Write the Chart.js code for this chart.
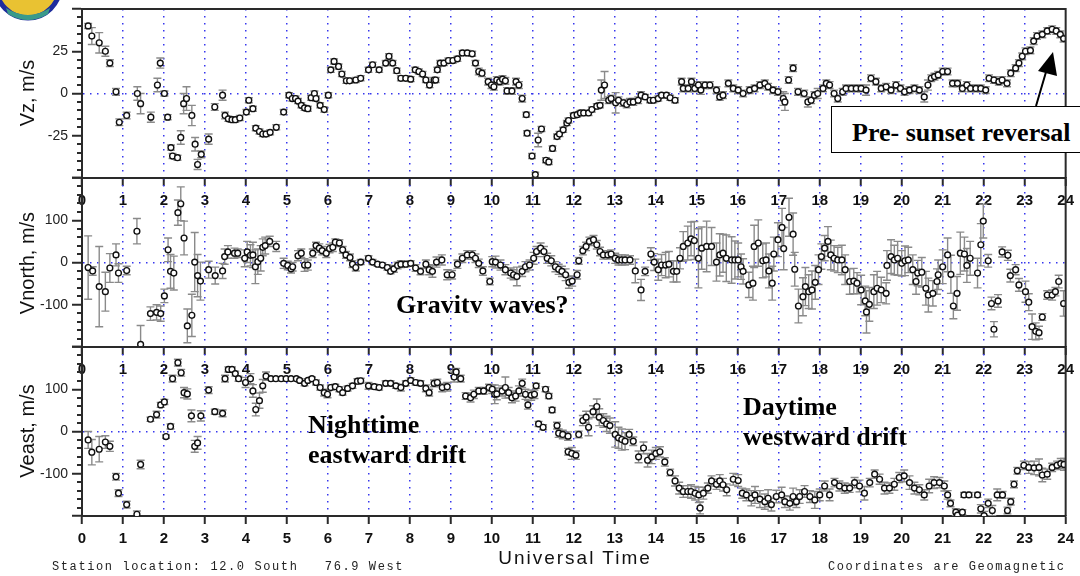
<!DOCTYPE html>
<html>
<head>
<meta charset="utf-8">
<script src="https://cdn.jsdelivr.net/npm/chart.js@4"></script>
<style>
  body { margin: 0; background: #fff; }
  #page { position: relative; width: 1080px; height: 576px; overflow: hidden; background: #fff; }
  canvas { position: absolute; left: 0; }
  .ytitle { position: absolute; font: 20px "Liberation Sans", Arial, sans-serif; color: #111;
            white-space: nowrap; transform: translate(-50%, -50%) rotate(-90deg); }
  .note { position: absolute; font: bold 26px "Liberation Serif", "Times New Roman", serif; color: #000; white-space: nowrap; }
  .foot { position: absolute; font: 12px "Liberation Mono", monospace; letter-spacing: 1.6px; color: #222; white-space: pre; }
</style>
</head>
<body>
<div id="page">
  <canvas id="vzChart" width="1080" height="227" style="top:-9px"></canvas>
  <canvas id="vnChart" width="1080" height="227" style="top:160px"></canvas>
  <canvas id="veChart" width="1080" height="227" style="top:329px"></canvas>

  <div class="ytitle" style="left:27px; top:93px">Vz, m/s</div>
  <div class="ytitle" style="left:27px; top:263px">Vnorth, m/s</div>
  <div class="ytitle" style="left:27px; top:431px">Veast, m/s</div>

  <div style="position:absolute; left:831px; top:106px; width:260px; height:45px; border:1.5px solid #000; background:#fff; overflow:hidden;">
    <div class="note" style="position:static; padding-left:20px; line-height:52px;">Pre- sunset reversal</div>
  </div>
  <svg style="position:absolute; left:0; top:0" width="1080" height="576">
    <line x1="1036" y1="106" x2="1046" y2="72" stroke="#000" stroke-width="2"/>
    <polygon points="1053,52 1038,71 1057,76" fill="#000"/>
    <circle cx="28" cy="-14" r="32" fill="#e9c232" stroke="#1e2c9c" stroke-width="5"/>
    <path d="M6,8 Q28,22 50,8 L48,14 Q28,26 8,14 Z" fill="#3a9a8a"/>
  </svg>

  <div style="position:absolute; left:396px; top:285px; height:28px; overflow:hidden;">
    <div class="note" style="position:static; margin-top:7px; line-height:26px;">Gravity waves?</div>
  </div>
  <div class="note" style="left:308px; top:410px; line-height:30px;">Nighttime<br>eastward drift</div>
  <div class="note" style="left:743px; top:392px; line-height:30px;">Daytime<br>westward drift</div>

  <div style="position:absolute; left:575px; top:558px; transform:translate(-50%,-50%); font:19px 'Liberation Sans', Arial, sans-serif; letter-spacing:2px; color:#111; white-space:nowrap;">Universal Time</div>
  <div class="foot" style="left:52px; top:560px;">Station location: 12.0 South   76.9 West</div>
  <div class="foot" style="left:828px; top:560px;">Coordinates are Geomagnetic</div>
</div>

<script>
// [UT hour, velocity m/s, error m/s]
const vzPoints = [
  [0.15,40,1.5],[0.24,34,5],[0.42,30,6],[0.57,25,3],[0.68,18,2],[0.83,1,2],[0.91,-17,2],[1.09,-13,2],
  [1.35,0,4],[1.43,-6,6],[1.68,-14,3],[1.84,5,4],[1.91,18,3],[2.01,0,1.5],[2.09,-14,1.5],[2.17,-32,1.5],
  [2.21,-37,1.5],[2.33,-38,1.5],[2.41,-26,4],[2.48,-6,6],[2.55,-3,7],[2.68,-13,6],[2.76,-30,4],[2.82,-42,3],
  [2.91,-36,2],[3.09,-27,3],[3.24,-8,2],[3.43,-1,3],[3.49,-13,2],[3.57,-15,1.5],[3.66,-15.5,1.5],[3.74,-15.5,1.5],
  [3.85,-14.5,1.5],[4.01,-11,1.5],[4.07,-4,1.5],[4.17,-9,1.5],[4.24,-20.5,1.5],[4.33,-22.5,1.5],[4.41,-24,1.5],
  [4.49,-24,1.5],[4.59,-23,1.5],[4.74,-20,1.5],[4.92,-11,1.5],[5.05,-1,1.5],[5.13,-3,1.5],[5.21,-3,1.5],
  [5.27,-4.5,1.5],[5.35,-7,1.5],[5.43,-8.5,1.5],[5.51,-9,1.5],[5.59,-2.5,1.5],[5.67,0,1.5],[5.71,-3,1.5],
  [5.81,-7,1.5],[5.91,-9.5,1.5],[6.01,-1,1.5],[6.07,14,1.5],[6.15,19,1.5],[6.26,16,1.5],[6.34,11.5,1.5],
  [6.45,7.5,1.5],[6.53,7.5,1.5],[6.68,8,1.5],[6.80,9,1.5],[6.99,14,1.5],[7.09,17,1.5],[7.25,14,1.5],
  [7.41,18,1.5],[7.49,22,1.5],[7.58,18,1.5],[7.68,13.5,1.5],[7.78,9,1.5],[7.90,9,1.5],[8.02,8.5,1.5],
  [8.13,14,1.5],[8.22,13,1.5],[8.31,11.5,1.5],[8.39,8,1.5],[8.48,5,1.5],[8.59,8,1.5],[8.63,8,1.5],
  [8.67,14,1.5],[8.74,18,1.5],[8.83,18,1.5],[8.94,19.5,1.5],[9.05,19.5,1.5],[9.16,20.5,1.5],[9.28,24,1.5],
  [9.40,24,1.5],[9.52,23.5,1.5],[9.60,18,1.5],[9.68,13,2],[9.76,12,2],[9.91,7,2],[9.99,5,2],[10.05,4,2],
  [10.12,8,2],[10.19,7,2],[10.26,8.5,2],[10.33,7.5,2],[10.37,1.5,2],[10.49,1.5,2],[10.59,7,2],[10.66,5,2],
  [10.74,-3,2],[10.84,-12.5,1.5],[10.86,-23.5,1.5],[10.98,-37,1.5],[11.06,-48,1.5],[11.13,-27.5,4],
  [11.21,-21,1.5],[11.32,-39.5,1.5],[11.39,-40.5,1.5],[11.48,-32.5,1.5],[11.59,-25.5,1.5],[11.65,-24,1.5],
  [11.74,-21.5,1.5],[11.83,-17.5,1.5],[11.87,-16,1.5],[11.99,-13,1.5],[12.08,-12.5,1.5],[12.16,-11.5,1.5],
  [12.24,-11.5,1.5],[12.36,-11.5,1.5],[12.44,-9.5,1.5],[12.56,-7.5,1.5],[12.64,-7,1.5],[12.67,2,6],
  [12.75,5,8],[12.85,-4,2],[12.91,-3,2],[13.02,-5.5,6],[13.09,-4,2],[13.21,-5.5,2],[13.29,-6.5,2],
  [13.37,-5,2],[13.45,-5,2],[13.57,-4,2],[13.64,-1,2],[13.74,-2,1.5],[13.86,-4,1.5],[13.94,-4,1.5],
  [14.06,-3,1.5],[14.14,-1,1.5],[14.26,-1,1.5],[14.35,-2.5,1.5],[14.47,-4,1.5],[14.63,7,2],[14.67,3,2],
  [14.79,3,2],[14.87,7,2],[14.95,3,2],[15.04,5,2],[15.10,2,2.5],[15.20,5,2],[15.32,5,2],[15.48,2,2],
  [15.56,-2,2],[15.64,-1,2],[15.77,6,2],[15.89,3,2],[16.01,2,2],[16.13,0,2],[16.29,2,2],[16.41,3,2],
  [16.54,5,2],[16.66,6,2],[16.74,4,2],[16.86,2,2],[16.98,1,2],[17.11,-3,4],[17.15,-5,5],[17.24,8,2],
  [17.35,15,2],[17.47,1,2],[17.62,0,2],[17.71,-5,3],[17.79,-4,2],[17.87,-1,2],[17.95,0,3],[18.08,3,2],
  [18.16,6,2],[18.24,5,2],[18.35,0,2],[18.44,-3,2],[18.56,1,2],[18.64,3,2],[18.77,3,2],[18.89,3,2],
  [19.01,3,2],[19.13,2,3],[19.25,9,2],[19.37,7,2],[19.50,3,2],[19.62,4,2],[19.74,2,2],[19.86,5,2],
  [19.97,3,2],[20.07,1,2],[20.19,2,2],[20.31,3,2],[20.43,2,2],[20.55,-2,3],[20.64,5,3],[20.72,9,2],
  [20.80,10,2],[20.89,11,2],[21.00,13,2],[21.12,13,2],[21.24,6,2],[21.36,6,2],[21.48,3,2],[21.59,5,2],
  [21.68,3,2],[21.81,3,2],[21.93,3,2],[22.05,2,2],[22.13,9,2],[22.25,8,2],[22.37,7,2],[22.45,8,2],
  [22.57,6,2],[22.66,12,2],[22.78,15,2],[22.86,18,2],[22.94,22,2],[23.02,25,2],[23.14,25.5,2],[23.22,31,2],
  [23.30,34,2],[23.43,35,2],[23.55,37,2],[23.67,38,2],[23.77,37,2],[23.87,35,2],[23.95,32.5,2]
];

const vnorthPoints = [
  [0.15,-12,75],[0.26,-20,10],[0.42,-57,95],[0.57,-69,46],[0.68,-13,34],[0.83,18,26],[0.89,-25,22],
  [1.09,-19,10],[1.34,74,30],[1.43,-194,45],[1.67,-121,16],[1.82,-118,18],[1.92,-121,18],[2.01,-79,16],
  [2.10,30,28],[2.16,-21,40],[2.24,-25,40],[2.34,118,30],[2.41,139,40],[2.49,58,40],[2.57,-150,40],
  [2.68,-125,50],[2.75,1,70],[2.82,-31,50],[2.89,-44,45],[3.09,-17,20],[3.25,-31,20],[3.43,-20,18],
  [3.48,14,18],[3.56,25,15],[3.72,22,12],[3.80,22,10],[3.97,10,20],[4.03,25,25],[4.11,17,25],[4.17,18,30],
  [4.23,-10,40],[4.29,2,30],[4.36,10,30],[4.41,36,20],[4.47,40,20],[4.58,50,12],[4.74,38,12],[4.92,-2,12],
  [5.02,-7,10],[5.10,-15,10],[5.14,-10,10],[5.27,16,12],[5.35,22,10],[5.43,-6,15],[5.51,-6,12],[5.63,22,10],
  [5.71,40,8],[5.79,34,10],[5.86,28,10],[5.96,22,10],[6.04,33,10],[6.12,36,10],[6.18,48,8],[6.28,46,8],
  [6.36,30,8],[6.44,18,8],[6.54,12,8],[6.60,-4,8],[6.68,-12,8],[6.80,1,6],[6.99,10,6],[7.09,1,6],
  [7.21,-4,5],[7.33,-6,5],[7.45,-12,6],[7.53,-21,6],[7.61,-15,8],[7.70,-7,8],[7.78,-4,8],[7.90,-4,6],
  [8.02,-2,6],[8.14,-13,8],[8.26,-21,8],[8.39,-4,10],[8.47,-17,12],[8.55,-21,14],[8.65,1,12],[8.78,6,12],
  [8.91,-29,12],[9.03,-29,10],[9.16,-4,10],[9.28,10,10],[9.40,18,10],[9.52,18,10],[9.60,10,10],[9.68,-2,10],
  [9.78,-20,10],[9.95,-45,8],[10.01,2,12],[10.09,1,14],[10.21,-6,12],[10.33,-17,12],[10.46,-25,12],
  [10.53,-29,12],[10.61,-33,22],[10.74,-21,12],[10.82,-10,12],[10.92,-6,12],[11.02,10,14],[11.09,26,12],
  [11.19,34,12],[11.27,26,12],[11.35,10,12],[11.45,4,12],[11.55,-10,12],[11.63,-16,12],[11.71,-21,12],
  [11.80,-29,14],[11.88,-47,14],[11.96,-44,12],[12.08,-29,10],[12.12,4,8],[12.22,28,10],[12.30,38,10],
  [12.38,50,10],[12.48,54,10],[12.56,42,10],[12.64,26,10],[12.72,18,10],[12.83,18,10],[12.91,20,10],
  [13.01,10,12],[13.09,6,12],[13.17,6,12],[13.25,6,12],[13.37,6,10],[13.50,-20,28],[13.64,-65,25],
  [13.74,-21,10],[13.88,20,15],[13.96,1,20],[14.06,-17,25],[14.14,-6,25],[14.24,-6,30],[14.32,-4,30],
  [14.43,-21,25],[14.51,-21,25],[14.59,10,25],[14.67,38,35],[14.78,46,40],[14.86,56,40],[14.94,52,45],
  [15.04,10,70],[15.12,34,50],[15.24,38,60],[15.36,38,45],[15.48,1,45],[15.56,18,50],[15.64,22,45],
  [15.72,10,55],[15.85,6,55],[15.93,6,45],[16.01,6,40],[16.08,-10,30],[16.13,-21,30],[16.27,-53,30],
  [16.37,-49,40],[16.40,38,50],[16.50,46,55],[16.61,4,40],[16.69,6,40],[16.76,-20,40],[16.84,-49,40],
  [16.88,20,40],[16.98,54,40],[17.08,83,45],[17.12,33,50],[17.25,107,45],[17.35,67,50],[17.39,-16,40],
  [17.48,-103,40],[17.59,-81,45],[17.65,-57,45],[17.73,-69,40],[17.81,-65,45],[17.89,-47,40],[17.97,-17,35],
  [18.04,14,30],[18.12,34,30],[18.20,50,35],[18.27,18,35],[18.35,10,30],[18.44,6,30],[18.54,6,35],
  [18.62,-17,35],[18.73,-45,30],[18.83,-44,30],[18.91,-49,25],[19.01,-65,35],[19.11,-91,35],[19.14,-117,50],
  [19.21,-99,40],[19.32,-69,40],[19.40,-61,40],[19.50,-65,30],[19.62,-73,25],[19.64,-7,35],[19.74,14,40],
  [19.82,6,35],[19.90,10,40],[20.00,-2,30],[20.08,4,35],[20.16,6,30],[20.27,-17,35],[20.35,-45,30],
  [20.39,-25,30],[20.49,-23,35],[20.59,-61,40],[20.65,-77,40],[20.76,-73,30],[20.86,-45,30],[20.89,-29,35],
  [21.00,-10,40],[21.12,18,40],[21.20,-28,45],[21.26,-103,30],[21.35,-73,40],[21.43,22,50],[21.53,20,40],
  [21.59,-7,40],[21.67,10,40],[21.85,-25,35],[21.93,42,50],[21.99,98,40],[22.11,4,15],[22.19,-97,15],
  [22.25,-158,18],[22.35,-91,15],[22.45,25,12],[22.59,17,12],[22.65,-31,15],[22.78,-17,12],[22.86,-53,15],
  [23.02,-69,25],[23.10,-94,20],[23.18,-152,30],[23.27,-163,20],[23.35,-166,15],[23.43,-129,8],
  [23.55,-77,10],[23.67,-77,12],[23.75,-69,10],[23.83,-45,15],[23.95,-97,30]
];

const veastPoints = [
  [0.15,-20,20],[0.24,-49,30],[0.42,-42,30],[0.57,-25,15],[0.68,-35,12],[0.83,-107,8],[0.89,-146,8],
  [1.09,-173,8],[1.34,-196,8],[1.43,-78,10],[1.67,29,5],[1.82,40,8],[1.92,63,6],[2.01,70,6],[2.05,-12,4],
  [2.16,12,6],[2.21,125,8],[2.34,163,8],[2.42,139,8],[2.49,92,12],[2.57,89,12],[2.67,37,14],[2.75,-35,14],
  [2.82,-27,15],[2.90,37,12],[3.09,98,8],[3.24,47,6],[3.43,43,8],[3.49,125,8],[3.57,147,6],[3.66,147,6],
  [3.74,137,6],[3.82,125,6],[3.99,116,12],[4.11,125,12],[4.17,96,15],[4.24,52,15],[4.33,73,18],[4.41,108,15],
  [4.49,131,10],[4.61,125,4],[4.73,125,4],[4.86,125,4],[4.98,125,4],[5.10,125,4],[5.23,125,4],[5.31,121,4],
  [5.43,114,6],[5.51,121,4],[5.61,125,4],[5.71,116,6],[5.81,104,6],[5.91,92,8],[5.99,88,8],[6.07,104,6],
  [6.18,106,6],[6.28,100,6],[6.36,92,6],[6.48,102,6],[6.60,108,6],[6.72,119,6],[6.80,120,6],[6.99,108,8],
  [7.13,106,6],[7.25,104,6],[7.41,114,6],[7.53,114,6],[7.66,108,6],[7.78,104,8],[7.90,114,6],[8.02,121,6],
  [8.14,116,6],[8.26,114,6],[8.39,102,8],[8.47,92,8],[8.59,114,8],[8.67,116,8],[8.79,104,10],[8.91,106,10],
  [9.08,129,12],[9.13,141,8],[9.24,125,8],[9.36,84,8],[9.48,80,10],[9.56,88,10],[9.68,96,8],[9.80,96,8],
  [9.93,104,8],[10.01,100,10],[10.07,88,22],[10.12,89,14],[10.25,96,12],[10.33,104,25],[10.41,92,12],
  [10.49,80,12],[10.58,84,12],[10.66,96,12],[10.74,114,10],[10.82,88,12],[10.88,63,10],[10.96,86,12],
  [11.04,88,10],[11.08,108,6],[11.14,18,6],[11.25,10,6],[11.31,100,6],[11.39,84,6],[11.47,51,6],
  [11.59,14,8],[11.63,-4,10],[11.73,-7,10],[11.86,-11,10],[11.86,-48,8],[11.95,-52,14],[12.05,-56,10],
  [12.12,-7,8],[12.22,26,12],[12.30,34,14],[12.36,10,20],[12.47,47,14],[12.56,59,18],[12.62,34,20],
  [12.72,26,16],[12.80,18,18],[12.88,14,18],[13.01,-7,30],[13.09,-15,25],[13.17,-19,25],[13.25,-23,20],
  [13.35,-7,12],[13.45,-23,10],[13.58,-60,14],[13.70,-39,14],[13.80,-68,16],[13.90,-60,16],[14.00,-52,14],
  [14.10,-48,12],[14.22,-72,10],[14.35,-97,8],[14.47,-117,12],[14.57,-134,14],[14.67,-142,14],
  [14.78,-142,14],[14.86,-142,16],[14.96,-146,16],[15.05,-150,18],[15.08,-181,14],[15.16,-146,14],
  [15.27,-134,12],[15.36,-117,12],[15.48,-125,12],[15.56,-117,15],[15.64,-126,15],[15.73,-138,14],
  [15.89,-113,14],[16.01,-116,14],[16.11,-146,12],[16.21,-150,14],[16.33,-158,18],[16.42,-150,20],
  [16.54,-160,20],[16.66,-166,18],[16.74,-158,20],[16.82,-173,15],[16.94,-154,15],[17.07,-150,18],
  [17.15,-166,14],[17.27,-170,16],[17.35,-154,20],[17.43,-166,14],[17.51,-154,16],[17.63,-142,14],
  [17.76,-154,14],[17.88,-162,20],[18.00,-150,14],[18.12,-129,12],[18.24,-150,14],[18.36,-121,10],
  [18.48,-129,12],[18.61,-134,12],[18.73,-134,10],[18.85,-121,12],[18.97,-129,14],[19.09,-146,16],
  [19.22,-121,10],[19.34,-101,10],[19.46,-113,12],[19.58,-134,14],[19.70,-134,12],[19.82,-125,14],
  [19.94,-109,12],[20.06,-105,14],[20.19,-121,16],[20.31,-134,14],[20.43,-138,12],[20.55,-150,12],
  [20.67,-129,16],[20.79,-121,14],[20.92,-121,12],[21.04,-129,12],[21.12,-150,10],[21.19,-170,8],
  [21.32,-191,8],[21.36,-198,6],[21.48,-191,6],[21.52,-150,6],[21.64,-150,6],[21.85,-150,6],[21.93,-183,10],
  [22.01,-199,10],[22.11,-170,10],[22.21,-187,12],[22.33,-150,14],[22.46,-150,8],[22.58,-187,8],
  [22.66,-166,8],[22.74,-125,8],[22.82,-93,8],[22.98,-80,10],[23.10,-85,14],[23.23,-86,16],[23.35,-85,20],
  [23.43,-103,16],[23.55,-101,12],[23.67,-85,10],[23.79,-80,10],[23.88,-76,12],[23.96,-78,14]
];

const hourTicks = [0,1,2,3,4,5,6,7,8,9,10,11,12,13,14,15,16,17,18,19,20,21,22,23,24];

const DOT_BLUE = '#3636ee';
const AXIS = '#2a2a2a';

function makePanel(id, rows, yMax, yStep, minorStep) {
  const errorBars = {
    id: 'errorBars',
    beforeDatasetsDraw(chart) {
      const {ctx, chartArea: a, scales: {x, y}} = chart;
      ctx.save();
      ctx.beginPath();
      ctx.rect(a.left, a.top, a.right - a.left, a.bottom - a.top);
      ctx.clip();
      ctx.strokeStyle = '#8a8a8a';
      ctx.lineWidth = 1.4;
      rows.forEach(([t, v, e]) => {
        const px = x.getPixelForValue(t);
        const y1 = y.getPixelForValue(v + e);
        const y2 = y.getPixelForValue(v - e);
        ctx.beginPath();
        ctx.moveTo(px, y1); ctx.lineTo(px, y2);
        ctx.moveTo(px - 4, y1); ctx.lineTo(px + 4, y1);
        ctx.moveTo(px - 4, y2); ctx.lineTo(px + 4, y2);
        ctx.stroke();
      });
      ctx.restore();
    }
  };
  const frameAndMinor = {
    id: 'frameAndMinor',
    afterDraw(chart) {
      const {ctx, chartArea: a, scales: {y}} = chart;
      ctx.save();
      ctx.strokeStyle = AXIS;
      ctx.lineWidth = 2;
      ctx.beginPath();
      ctx.moveTo(a.left, a.top); ctx.lineTo(a.right, a.top); ctx.lineTo(a.right, a.bottom);
      ctx.stroke();
      ctx.beginPath();
      for (let v = -yMax; v <= yMax; v += minorStep) {
        if (v % yStep === 0) continue;
        const py = Math.round(y.getPixelForValue(v));
        ctx.moveTo(a.left - 5, py); ctx.lineTo(a.left, py);
      }
      ctx.stroke();
      ctx.restore();
    }
  };

  return new Chart(document.getElementById(id), {
    type: 'scatter',
    data: {
      datasets: [{
        data: rows.map(r => ({x: r[0], y: r[1]})),
        pointRadius: 2.9,
        pointBorderWidth: 1.4,
        pointBorderColor: '#111',
        pointBackgroundColor: '#fff'
      }]
    },
    options: {
      responsive: false,
      animation: false,
      events: [],
      layout: {padding: {top: 18, right: 11, left: 0, bottom: 0}},
      plugins: {legend: {display: false}, tooltip: {enabled: false}},
      scales: {
        x: {
          type: 'linear', min: 0, max: 24,
          afterBuildTicks: s => { s.ticks = hourTicks.map(v => ({value: v})); },
          afterFit: s => { s.height = 40; },
          ticks: {autoSkip: false, maxRotation: 0, padding: 6, color: '#111',
                  font: {family: 'Liberation Sans', size: 15, weight: 'bold'}},
          grid: {
            color: c => (c.tick && (c.tick.value === 0 || c.tick.value === 24)) ? 'rgba(0,0,0,0)' : DOT_BLUE,
            lineWidth: 1.5, tickColor: AXIS, tickWidth: 2, tickLength: 8
          },
          border: {color: AXIS, width: 2, dash: [1.5, 5.5]}
        },
        y: {
          min: -yMax, max: yMax,
          afterFit: s => { s.width = 82; },
          ticks: {stepSize: yStep, padding: 4, color: '#222',
                  font: {family: 'Liberation Sans', size: 14},
                  callback: v => Math.abs(v) === yMax ? '' : String(v)},
          grid: {
            color: c => (c.tick && c.tick.value === 0) ? DOT_BLUE : 'rgba(0,0,0,0)',
            lineWidth: 1.5, tickColor: AXIS, tickWidth: 2, tickLength: 10
          },
          border: {color: AXIS, width: 2, dash: [1.5, 5.5]}
        }
      }
    },
    plugins: [errorBars, frameAndMinor]
  });
}

makePanel('vzChart', vzPoints, 50, 25, 5);
makePanel('vnChart', vnorthPoints, 200, 100, 20);
makePanel('veChart', veastPoints, 200, 100, 20);
</script>
</body>
</html>
